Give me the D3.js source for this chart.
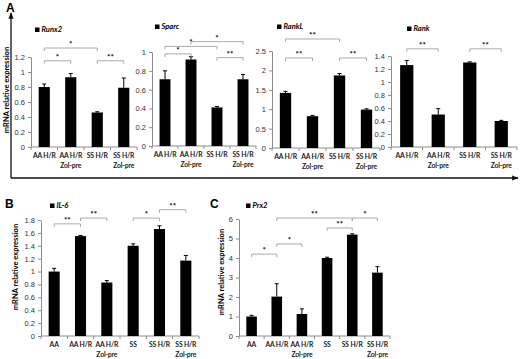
<!DOCTYPE html>
<html>
<head>
<meta charset="utf-8">
<script src="https://cdn.jsdelivr.net/npm/d3@7"></script>
<style>
  body { margin: 0; background: #fff; }
  svg { font-family: Lato, "Open Sans", Arial, sans-serif; }
  .tick text { fill: #333; font-size: 7.5px; }
  .tick line, .domain { stroke: #8c8c8c; }
</style>
</head>
<body>
<div id="chart"></div>
<script>
// categories
const groupsA = ['AA H/R', 'AA H/R\nZol-pre', 'SS H/R', 'SS H/R\nZol-pre'];
const groupsB = ['AA', 'AA H/R', 'AA H/R\nZol-pre', 'SS', 'SS H/R', 'SS H/R\nZol-pre'];

// series values (mean, error)
const runx2Mean = [0.80, 0.93, 0.46, 0.79];
const runx2Err = [0.04, 0.05, 0.01, 0.13];
const sparcMean = [0.71, 0.92, 0.41, 0.71];
const sparcErr = [0.09, 0.03, 0.01, 0.05];
const ranklMean = [1.42, 0.82, 1.87, 0.99];
const ranklErr = [0.04, 0.02, 0.05, 0.02];
const rankMean = [1.26, 0.50, 1.30, 0.40];
const rankErr = [0.07, 0.09, 0.01, 0.01];
const il6Mean = [1.00, 1.55, 0.83, 1.40, 1.66, 1.17];
const il6Err = [0.05, 0.01, 0.03, 0.03, 0.05, 0.08];
const prx2Mean = [1.00, 2.02, 1.13, 4.00, 5.20, 3.25];
const prx2Err = [0.06, 0.66, 0.26, 0.04, 0.04, 0.31];

// tick labels
const ticksRunx2 = [0, 0.2, 0.4, 0.6, 0.8, 1, 1.2];
const ticksSparc = [0, 0.2, 0.4, 0.6, 0.8, 1];
const ticksRankl = [0, 0.5, 1, 1.5, 2, 2.5];
const ticksRank = [0, 0.2, 0.4, 0.6, 0.8, 1, 1.2, 1.4];
const ticksIl6 = [0, 0.2, 0.4, 0.6, 0.8, 1, 1.2, 1.4, 1.6, 1.8];
const ticksPrx2 = [0, 1, 2, 3, 4, 5, 6];

// significance brackets: [from group, to group, level, label]
const sigRunx2 = [[0, 2, 1.32, '*'], [0, 1, 1.15, '*'], [2, 3, 1.15, '**']];
const sigSparc = [[0, 1, 0.98, '*'], [0, 2, 1.06, '*'], [1, 3, 1.11, '*'], [2, 3, 0.94, '**']];
const sigRankl = [[0, 2, 2.81, '**'], [0, 1, 2.32, '**'], [2, 3, 2.32, '**']];
const sigRank = [[0, 1, 1.51, '**'], [2, 3, 1.51, '**']];
const sigIl6 = [[0, 1, 1.74, '**'], [1, 2, 1.83, '**'], [3, 4, 1.83, '*'], [4, 5, 1.96, '**']];
const sigPrx2 = [[0, 1, 4.2, '*'], [1, 2, 4.72, '*'], [1, 4, 6.05, '**'], [3, 4, 5.54, '**'], [4, 5, 6.05, '*']];

const width = 520, height = 359;
const svg = d3.select('#chart').append('svg')
    .attr('width', width)
    .attr('height', height);

svg.append('defs').append('marker')
    .attr('id', 'arrow')
    .attr('viewBox', '0 0 10 10')
    .attr('refX', 9).attr('refY', 5)
    .attr('markerWidth', 5).attr('markerHeight', 5)
    .attr('orient', 'auto')
    .append('path')
    .attr('d', 'M0,1 L10,5 L0,9 Z')
    .attr('fill', '#111');

function drawPanel(p) {
    const g = svg.append('g');

    const x = d3.scaleBand()
        .domain(p.groups)
        .range([p.left, p.right])
        .paddingInner(0.58)
        .paddingOuter(0.29);

    const ticks = p.ticks;
    const y = d3.scaleLinear()
        .domain([0, ticks[ticks.length - 1]])
        .range([p.zero, p.top]);

    // y axis
    g.append('g')
        .attr('transform', `translate(${p.left},0)`)
        .call(d3.axisLeft(y).tickValues(ticks).tickSize(3).tickSizeOuter(0).tickPadding(3)
            .tickFormat(d => d3.format('')(+d.toFixed(2))));

    // x axis line + boundary ticks
    g.append('line')
        .attr('x1', p.left).attr('x2', p.right)
        .attr('y1', p.zero).attr('y2', p.zero)
        .attr('stroke', '#8c8c8c');
    const bounds = d3.range(p.groups.length + 1).map(i => p.left + i * x.step());
    g.selectAll('.xtick')
        .data(bounds)
        .join('line')
        .attr('class', 'xtick')
        .attr('x1', d => d).attr('x2', d => d)
        .attr('y1', p.zero).attr('y2', p.zero + 3)
        .attr('stroke', '#8c8c8c');

    // x labels
    const labels = g.selectAll('.xlab')
        .data(p.groups)
        .join('text')
        .attr('class', 'xlab')
        .attr('text-anchor', 'middle')
        .attr('font-size', '6.8px')
        .attr('font-weight', 'bold')
        .attr('letter-spacing', '-0.15px')
        .attr('fill', '#222');
    labels.each(function (d) {
        const t = d3.select(this);
        d.split('\n').forEach((line, i) => {
            t.append('tspan')
                .attr('x', x(d) + x.bandwidth() / 2)
                .attr('y', p.zero + 11 + i * 10)
                .text(line);
        });
    });

    // bars
    const rows = p.groups.map((gName, i) => ({ g: gName, v: p.mean[i], e: p.err[i] }));
    g.selectAll('.bar')
        .data(rows)
        .join('rect')
        .attr('class', 'bar')
        .attr('x', d => x(d.g))
        .attr('width', x.bandwidth())
        .attr('y', d => y(d.v))
        .attr('height', d => y(0) - y(d.v))
        .attr('fill', '#000');

    // error bars (upper only)
    const cx = d => x(d.g) + x.bandwidth() / 2;
    g.selectAll('.err')
        .data(rows)
        .join('line')
        .attr('class', 'err')
        .attr('x1', cx).attr('x2', cx)
        .attr('y1', d => y(d.v)).attr('y2', d => y(d.v + d.e))
        .attr('stroke', '#000');
    g.selectAll('.cap')
        .data(rows)
        .join('line')
        .attr('class', 'cap')
        .attr('x1', d => cx(d) - 2).attr('x2', d => cx(d) + 2)
        .attr('y1', d => y(d.v + d.e)).attr('y2', d => y(d.v + d.e))
        .attr('stroke', '#000');

    // significance brackets
    const gc = i => x(p.groups[i]) + x.bandwidth() / 2;
    const br = g.selectAll('.sig')
        .data(p.sig)
        .join('g')
        .attr('class', 'sig');
    br.append('path')
        .attr('d', d => {
            const yy = y(d[2]);
            return `M${gc(d[0])},${yy + 3}V${yy}H${gc(d[1])}V${yy + 3}`;
        })
        .attr('fill', 'none')
        .attr('stroke', '#a0a0a0')
        .attr('stroke-width', 0.9);
    br.append('text')
        .attr('x', d => (gc(d[0]) + gc(d[1])) / 2)
        .attr('y', d => y(d[2]) - 1)
        .attr('text-anchor', 'middle')
        .attr('font-size', '8px')
        .attr('font-weight', 'bold')
        .text(d => d[3]);

    // legend
    g.append('rect')
        .attr('x', p.legend[0]).attr('y', p.legend[1] - 4.5)
        .attr('width', 4.5).attr('height', 4.5)
        .attr('fill', '#000');
    g.append('text')
        .attr('x', p.legend[0] + 6.5).attr('y', p.legend[1])
        .attr('font-size', '7.5px')
        .attr('font-weight', 'bold')
        .attr('font-style', 'italic')
        .text(p.name);
}

drawPanel({ name: 'Runx2', groups: groupsA, mean: runx2Mean, err: runx2Err, ticks: ticksRunx2, sig: sigRunx2,
    left: 31, right: 137, zero: 147, top: 57, legend: [35, 32] });
drawPanel({ name: 'Sparc', groups: groupsA, mean: sparcMean, err: sparcErr, ticks: ticksSparc, sig: sigSparc,
    left: 152, right: 256, zero: 146, top: 52, legend: [155, 29] });
drawPanel({ name: 'RankL', groups: groupsA, mean: ranklMean, err: ranklErr, ticks: ticksRankl, sig: sigRankl,
    left: 272, right: 380, zero: 148, top: 51, legend: [277, 29] });
drawPanel({ name: 'Rank', groups: groupsA, mean: rankMean, err: rankErr, ticks: ticksRank, sig: sigRank,
    left: 391, right: 517, zero: 147, top: 56, legend: [407, 31] });
drawPanel({ name: 'IL-6', groups: groupsB, mean: il6Mean, err: il6Err, ticks: ticksIl6, sig: sigIl6,
    left: 41, right: 199, zero: 336, top: 220, legend: [50, 208] });
drawPanel({ name: 'Prx2', groups: groupsB, mean: prx2Mean, err: prx2Err, ticks: ticksPrx2, sig: sigPrx2,
    left: 239, right: 390, zero: 336, top: 219, legend: [246, 208] });

// panel A frame arrows
svg.append('line')
    .attr('x1', 11).attr('y1', 178).attr('x2', 11).attr('y2', 13)
    .attr('stroke', '#111').attr('stroke-width', 1.3)
    .attr('marker-end', 'url(#arrow)');
svg.append('line')
    .attr('x1', 11).attr('y1', 178).attr('x2', 518).attr('y2', 178)
    .attr('stroke', '#111').attr('stroke-width', 1.3)
    .attr('marker-end', 'url(#arrow)');

// panel letters
[['A', 6, 12], ['B', 5, 208], ['C', 210, 208]].forEach(([t, px, py]) => {
    svg.append('text')
        .attr('x', px).attr('y', py)
        .attr('font-family', 'Arial, "Liberation Sans", sans-serif')
        .attr('font-size', '12px')
        .attr('font-weight', 'bold')
        .text(t);
});

// rotated axis titles
[[6, 90], [15, 267], [221, 272]].forEach(([px, py]) => {
    svg.append('text')
        .attr('transform', `translate(${px},${py}) rotate(-90)`)
        .attr('text-anchor', 'middle')
        .attr('dy', '0.35em')
        .attr('font-size', '7.5px')
        .attr('font-weight', 'bold')
        .text('mRNA relative expression');
});
</script>
</body>
</html>
